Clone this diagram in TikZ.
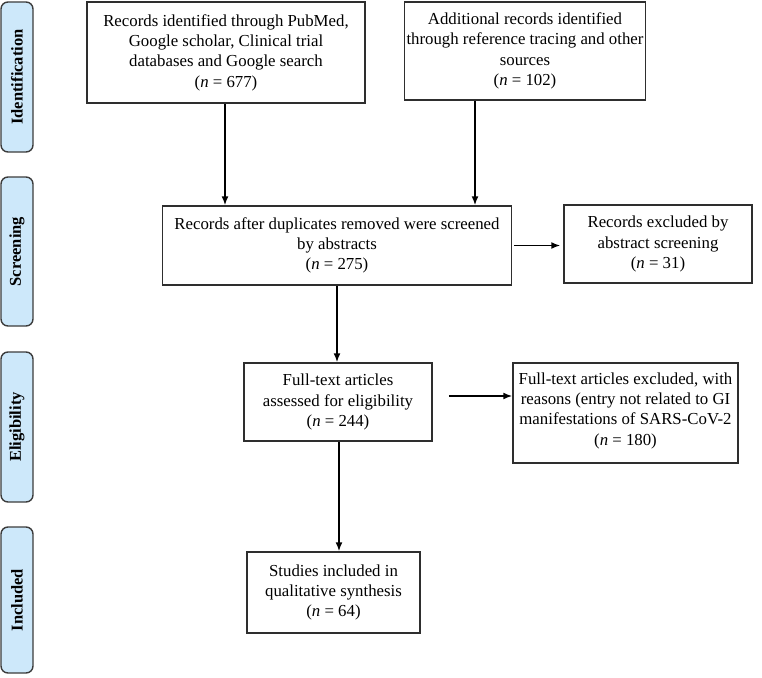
\documentclass[tikz,border=0pt]{standalone}
\usepackage{fontspec}
\setmainfont{Liberation Serif}
\usetikzlibrary{arrows.meta}
\definecolor{sidefill}{HTML}{CDE8FA}
\definecolor{sidedraw}{HTML}{3C3C3C}
\definecolor{boxdraw}{HTML}{2E2E2E}
\begin{document}
\begin{tikzpicture}[x=1pt,y=-1pt,
  box/.style={draw=boxdraw,line width=1.5pt,rectangle,align=center,inner sep=2pt,
    font=\fontsize{16.8}{20.3}\selectfont},
  side/.style={draw=sidedraw,line width=1.4pt,fill=sidefill,rounded corners=7pt,
    minimum width=32pt,inner sep=0pt},
  sidetext/.style={rotate=90,font=\fontsize{16.5}{19}\selectfont\bfseries,text=black},
  arr/.style={line width=1.6pt,draw=black,-{Latex[length=9pt,width=7pt]}}]
\useasboundingbox (0,0) rectangle (762,677);
% side labels
\node[side,minimum height=150pt] (s1) at (17,77) {};
\node[sidetext] at (s1.center) {Identification};
\node[side,minimum height=149pt] (s2) at (17,251.5) {};
\node[sidetext] at (s2.center) {Screening};
\node[side,minimum height=150pt] (s3) at (17,427) {};
\node[sidetext] at (s3.center) {Eligibility};
\node[side,minimum height=146pt] (s4) at (17,600) {};
\node[sidetext] at (s4.center) {Included};
% boxes
\node[box,minimum width=278pt,minimum height=101pt] (b1) at (226,52.5)
  {Records identified through PubMed,\\Google scholar, Clinical trial\\databases and Google search\\(\textit{n} = 677)};
\node[box,minimum width=240pt,minimum height=98pt] (b2) at (525,51)
  {Additional records identified\\through reference tracing and other\\sources\\(\textit{n} = 102)};
\node[box,minimum width=349pt,minimum height=79pt] (sc) at (337,245.5)
  {Records after duplicates removed were screened\\by abstracts\\(\textit{n} = 275)};
\node[box,minimum width=188pt,minimum height=78pt] (ex1) at (658,244)
  {Records excluded by\\abstract screening\\(\textit{n} = 31)};
\node[box,minimum width=188pt,minimum height=78pt] (el) at (338,402)
  {Full-text articles\\assessed for eligibility\\(\textit{n} = 244)};
\node[box,minimum width=225pt,minimum height=100pt,text depth=8pt] (ex2) at (625.5,413)
  {Full-text articles excluded, with\\reasons (entry not related to GI\\manifestations of SARS-CoV-2\\(\textit{n} = 180)};
\node[box,minimum width=173pt,minimum height=81pt] (in) at (333.5,592.5)
  {Studies included in\\qualitative synthesis\\(\textit{n} = 64)};
% connectors
\draw[arr] ([xshift=-1pt]b1.south) -- ([xshift=-1pt]b1.south |- sc.north);
\draw[arr] ([xshift=-50pt]b2.south) -- ([xshift=-50pt]b2.south |- sc.north);
\draw[arr] ([xshift=2pt]sc.east) -- ([xshift=-3pt]ex1.west |- sc.east);
\draw[arr] (sc.south) -- (sc.south |- el.north);
\draw[arr] ([xshift=16pt,yshift=6pt]el.east) -- ([yshift=6pt]ex2.west |- el.east);
\draw[arr] ([xshift=1pt]el.south) -- ([xshift=1pt]el.south |- in.north);
\end{tikzpicture}
\end{document}
